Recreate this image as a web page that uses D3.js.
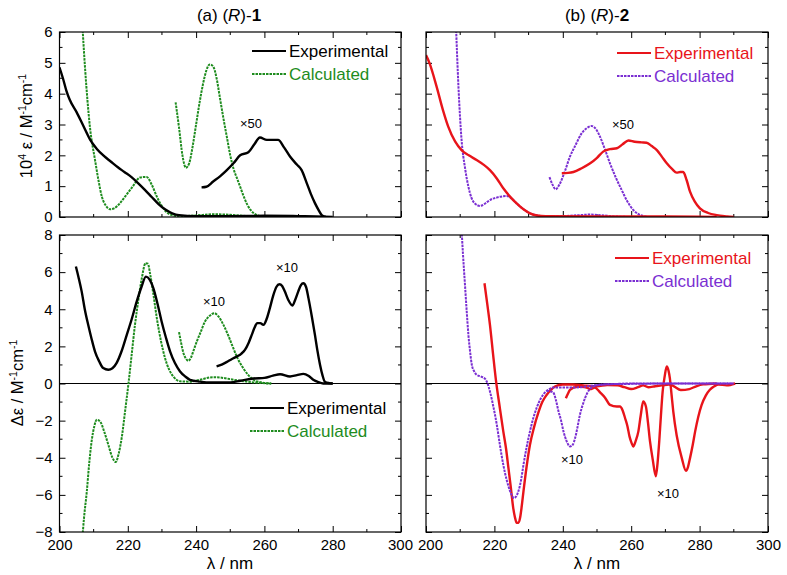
<!DOCTYPE html>
<html>
<head>
<meta charset="utf-8">
<script src="https://cdn.jsdelivr.net/npm/d3@7"></script>
<style>
  body { margin: 0; background: #fff; }
  svg { font-family: "Liberation Sans", Arial, sans-serif; }
</style>
</head>
<body>
<div id="chart"></div>
<script>
// ---- data (wavelength nm, value) ----
const absExp1 = [[200,4.85],[201,4.5],[202,4.1],[203,3.8],[205,3.4],[207,2.95],[209,2.5],[211,2.2],[213,1.98],[215,1.8],[217,1.62],[219,1.46],[221,1.3],[223,1.1],[225,0.88],[227,0.65],[229,0.42],[231,0.24],[233,0.12],[235,0.06],[240,0.03],[250,0.03],[260,0.04],[270,0.03],[275,0.02],[280,0]];
const absExp1x50 = [[241.6,0.96],[243,0.98],[245,1.15],[247,1.32],[249,1.52],[251,1.75],[252.9,2.0],[255.3,2.1],[257,2.35],[258.7,2.58],[260.7,2.5],[262,2.5],[264,2.5],[265.8,2.25],[267.5,1.96],[269.5,1.7],[270.9,1.52],[272.4,1.1],[273.6,0.75],[274.8,0.45],[276,0.2],[276.8,0.06],[278,0]];
const absCalc1 = [[206.6,6.4],[207.5,4.8],[208.9,2.93],[210.4,1.85],[211.4,1.2],[212.4,0.66],[213.5,0.38],[214.8,0.25],[216,0.28],[217.5,0.42],[219.2,0.66],[221.5,1.0],[223.6,1.28],[225.5,1.3],[227,1.05],[228.5,0.66],[230,0.35],[231.4,0.15],[233,0.06],[235,0.03],[240,0.05],[245,0.09],[250,0.07],[255,0.03],[260,0.01],[265,0]];
const absCalc1x50 = [[234,3.72],[235,2.9],[236,2.0],[237,1.6],[238,1.75],[239,2.3],[240,3.0],[241,3.7],[242,4.3],[243,4.75],[244,4.95],[245,4.88],[246,4.5],[247,3.85],[248,3.2],[249,2.6],[250,2.0],[251,1.55],[252,1.25],[253,0.95],[254,0.65],[255,0.4],[256,0.22],[257,0.11],[258,0.05],[260,0.01]];

const absExp2 = [[200,5.25],[201,5.0],[203.1,4.23],[205,3.45],[206.5,2.93],[208.5,2.45],[210.4,2.17],[212.5,2.0],[214.8,1.85],[216.8,1.7],[218.7,1.52],[220.7,1.25],[222.6,0.93],[224.5,0.67],[226.5,0.44],[228.5,0.25],[230.4,0.12],[232.5,0.05],[235,0.03],[250,0.02],[270,0.02],[280,0.01],[285,0]];
const absExp2x50 = [[239.7,1.42],[241.5,1.43],[243.1,1.46],[245.5,1.58],[248,1.74],[250,1.92],[251.8,2.12],[253.8,2.2],[255.8,2.23],[257.5,2.36],[259.2,2.48],[261,2.44],[263,2.42],[264.5,2.41],[266,2.3],[267.5,2.17],[269,1.95],[270.4,1.74],[272,1.55],[273.3,1.44],[274.3,1.46],[275.2,1.46],[276.2,1.2],[277.2,0.82],[278.6,0.5],[280.1,0.28],[282.5,0.13],[285,0.06],[288,0.02],[290,0]];
const absCalc2 = [[208.7,6.4],[209.5,4.2],[210.4,2.5],[211.4,1.6],[212.4,0.98],[213.3,0.62],[214.3,0.44],[215.8,0.36],[217.2,0.43],[218.7,0.55],[221,0.64],[223.6,0.68],[225,0.6],[226.5,0.44],[228.5,0.25],[230.4,0.12],[232.5,0.05],[235,0.02],[240,0.03],[245,0.06],[248,0.08],[251,0.06],[255,0.02],[260,0]];
const absCalc2x50 = [[236.1,1.29],[237,1.05],[237.9,0.9],[239,1.05],[240.5,1.45],[242.1,1.96],[243.8,2.35],[245.5,2.71],[247,2.88],[248.4,2.95],[249.7,2.85],[250.9,2.6],[252.3,2.2],[253.8,1.74],[255.5,1.28],[257.2,0.88],[258.9,0.5],[260.6,0.23],[262,0.1],[263.5,0.03],[265,0]];

const cdExp1 = [[204.8,6.3],[205.6,5.7],[206.5,4.95],[207.4,4.0],[208.4,3.16],[209.4,2.4],[210.4,1.72],[211.6,1.2],[212.8,0.83],[214.3,0.74],[215.5,0.82],[216.7,1.1],[218.2,1.75],[219.7,2.62],[221.2,3.5],[222.6,4.41],[224,5.2],[225.3,5.76],[226.4,5.6],[227.5,5.13],[228.7,4.3],[229.9,3.34],[231.2,2.45],[232.4,1.72],[233.8,1.1],[235.3,0.65],[236.8,0.38],[238.2,0.2],[241,0.1],[245,0.05],[250,0.06],[253,0.15],[256.8,0.27],[260,0.3],[262.5,0.42],[264.6,0.5],[267.5,0.38],[269.5,0.45],[271.4,0.52],[273,0.4],[274.3,0.2],[275.8,0.07],[277.2,0],[280,0]];
const cdExp1x10 = [[246,0.92],[247.5,1.02],[248.9,1.15],[250.5,1.32],[251.9,1.45],[253.2,1.6],[254.3,1.81],[255.4,2.2],[256.3,2.62],[257.1,3.0],[257.9,3.25],[258.8,3.25],[259.7,3.16],[260.7,3.5],[261.6,4.06],[262.6,4.75],[263.5,5.2],[264.4,5.35],[265.2,5.25],[266,4.95],[267,4.5],[268.2,4.2],[269,4.5],[269.9,4.95],[270.7,5.3],[271.4,5.4],[272.2,5.2],[272.9,4.6],[273.9,3.6],[274.8,2.62],[275.5,1.8],[276.3,1.0],[277,0.45],[277.7,0.1],[279,0.02],[280,0]];
const cdCalc1 = [[206.5,-8.8],[207.2,-7.2],[208,-5.81],[208.7,-4.3],[209.4,-3.12],[210.2,-2.3],[210.9,-1.95],[211.9,-2.05],[213.1,-2.6],[214.3,-3.3],[215.4,-3.95],[216.5,-4.23],[217.3,-3.8],[218.2,-2.94],[219.2,-1.5],[220.2,0],[221.1,1.5],[222.1,3.16],[223.1,4.5],[224.1,5.67],[225.2,6.48],[225.9,6.45],[226.5,5.94],[227.5,4.8],[228.5,3.52],[229.7,2.3],[230.9,1.37],[232.1,0.75],[233.3,0.38],[235.3,0.12],[238,0.1],[241,0.2],[245,0.34],[248,0.3],[251,0.2],[255,0.1],[258,0.04],[262,0]];
const cdCalc1x10 = [[235,2.77],[235.6,2.2],[236.3,1.63],[237,1.35],[237.7,1.22],[238.5,1.4],[239.3,1.8],[240.2,2.26],[241.4,2.8],[242.6,3.34],[244,3.65],[245.3,3.79],[246.6,3.6],[248,3.16],[249.5,2.55],[250.9,1.9],[252.3,1.3],[253.8,0.83],[255.3,0.45],[256.8,0.2],[258.5,0.08],[260,0.03],[262,0]];

const cdExp2 = [[217.1,5.4],[217.9,4.3],[218.7,3.16],[219.6,1.6],[220.5,0.1],[221.5,-1.2],[222.6,-2.58],[223.4,-3.5],[224.1,-4.55],[224.8,-5.6],[225.5,-6.7],[226,-7.2],[226.5,-7.51],[227,-7.5],[227.5,-7.25],[228,-6.6],[228.5,-5.81],[229.4,-4.5],[230.4,-3.3],[231.6,-2.35],[232.8,-1.6],[234,-1.0],[235.3,-0.61],[236.5,-0.35],[237.7,-0.16],[240,-0.05],[243,-0.05],[246,-0.1],[250,-0.15],[253,-0.08],[256,-0.1],[258,-0.2],[260,-0.3],[262,-0.2],[263.5,-0.1],[265,-0.2],[267,-0.15],[269,-0.1],[271,-0.05],[272.5,-0.15],[274.5,-0.35],[277,-0.3],[279,-0.15],[281,-0.05],[285,0]];
const cdExp2x10 = [[240.9,-0.79],[241.5,-0.55],[242.1,-0.34],[244.1,-0.18],[245.5,-0.18],[247,-0.22],[248,-0.3],[249.4,-0.22],[250.9,-0.48],[252.3,-0.75],[253.8,-1.15],[255.8,-1.24],[256.7,-1.24],[257.5,-1.45],[258.2,-1.86],[258.9,-2.3],[259.5,-2.85],[260.1,-3.2],[260.6,-3.39],[261.3,-3.1],[262.1,-2.58],[262.8,-1.7],[263.5,-0.97],[264.3,-1.24],[264.9,-2.1],[265.5,-3.12],[266.3,-4.1],[267.2,-5.0],[267.7,-4.3],[268.2,-3.12],[268.7,-1.7],[269.2,-0.43],[269.8,0.4],[270.4,0.92],[270.9,0.7],[271.3,0.29],[271.8,-0.6],[272.3,-1.5],[273.3,-2.8],[274.8,-4.02],[276,-4.7],[276.6,-4.5],[277.2,-4.02],[278,-3.3],[278.7,-2.58],[279.6,-1.8],[280.6,-1.15],[281.8,-0.65],[283,-0.34],[284.3,-0.15],[285.5,-0.05],[287.9,-0.1],[290.4,0]];
const cdCalc2 = [[210.2,9],[210.8,7.0],[211.4,5.31],[211.9,3.9],[212.4,2.62],[212.9,1.7],[213.4,1.0],[214.1,0.65],[214.8,0.47],[216,0.38],[217.3,0.25],[218,0],[218.7,-0.43],[219.7,-1.25],[220.7,-2.22],[221.6,-3.3],[222.6,-4.38],[223.6,-5.2],[224.6,-5.81],[225.7,-6.17],[226.3,-6.1],[227,-5.81],[227.8,-5.2],[228.5,-4.38],[229.4,-3.45],[230.4,-2.58],[231.4,-1.85],[232.4,-1.29],[233.6,-0.8],[234.8,-0.48],[236,-0.32],[237.2,-0.22],[239.2,-0.22],[242,-0.22],[245,-0.2],[250,-0.08],[255,-0.03],[260,0],[290,0]];
const cdCalc2x10 = [[235.3,-0.39],[236.3,-0.42],[237.2,-0.48],[238,-0.9],[238.7,-1.47],[239.5,-2.0],[240.2,-2.58],[241.1,-3.1],[242.1,-3.39],[242.9,-3.3],[243.6,-2.94],[244.3,-2.35],[245,-1.69],[246,-1.05],[247,-0.57],[248.4,-0.22],[250.9,-0.07],[255,-0.03],[260,-0.02],[270,0],[290,0]];

const xTicks = [200, 220, 240, 260, 280, 300];
const absTicks = [0, 1, 2, 3, 4, 5, 6];
const cdTicks = [-8, -6, -4, -2, 0, 2, 4, 6, 8];

const colors = { exp1: "#000000", calc1: "#1e8c1e", exp2: "#e8141a", calc2: "#7a2fd2" };

// ---- layout ----
const W = 787, H = 575;
const svg = d3.select("#chart").append("svg")
  .attr("width", W).attr("height", H);

const cols = [{ x0: 59.5, x1: 401 }, { x0: 426, x1: 768 }];
const rows = [{ y0: 32, y1: 217 }, { y0: 235, y1: 532 }];

function drawPanel(id, col, row, yDomain, yMajor, yMinorStep, showYLabels, showXLabels, series, zeroLine) {
  const x = d3.scaleLinear().domain([200, 300]).range([col.x0, col.x1]);
  const y = d3.scaleLinear().domain(yDomain).range([row.y1, row.y0]);
  const g = svg.append("g");

  g.append("clipPath").attr("id", id)
    .append("rect").attr("x", col.x0).attr("y", row.y0)
    .attr("width", col.x1 - col.x0).attr("height", row.y1 - row.y0);

  const xMinor = d3.range(210, 300, 20);
  const yMinor = d3.range(yDomain[0] + yMinorStep, yDomain[1], yMinorStep * 2);

  // axes on all four sides, ticks pointing in
  const axB = d3.axisBottom(x).tickValues(xTicks).tickSize(-6).tickPadding(7)
    .tickFormat(showXLabels ? d3.format("d") : "");
  const axT = d3.axisTop(x).tickValues(xTicks).tickSize(-6).tickFormat("");
  const axL = d3.axisLeft(y).tickValues(yMajor).tickSize(-6).tickPadding(7)
    .tickFormat(showYLabels ? d3.format("d") : "");
  const axR = d3.axisRight(y).tickValues(yMajor).tickSize(-6).tickFormat("");

  const axes = [
    g.append("g").attr("transform", `translate(0,${row.y1})`).call(axB),
    g.append("g").attr("transform", `translate(0,${row.y0})`).call(axT),
    g.append("g").attr("transform", `translate(${col.x0},0)`).call(axL),
    g.append("g").attr("transform", `translate(${col.x1},0)`).call(axR)
  ];
  axes.forEach(a => {
    a.select(".domain").remove();
    a.selectAll("line").attr("stroke", "#000").attr("stroke-width", 1);
    a.selectAll("text").attr("fill", "#000").style("font-size", "15px")
      .style("font-family", "'Liberation Sans', Arial, sans-serif");
  });
  // nudge the edge labels apart where the two panels meet
  axes[0].selectAll("text").attr("dx", d => {
    if (col.x0 > 300 && d === 200) return 4;
    if (col.x0 < 300 && d === 300) return -1;
    return 0;
  });

  // minor ticks
  xMinor.forEach(v => {
    g.append("line").attr("x1", x(v)).attr("x2", x(v)).attr("y1", row.y1).attr("y2", row.y1 - 3).attr("stroke", "#000");
    g.append("line").attr("x1", x(v)).attr("x2", x(v)).attr("y1", row.y0).attr("y2", row.y0 + 3).attr("stroke", "#000");
  });
  yMinor.forEach(v => {
    g.append("line").attr("x1", col.x0).attr("x2", col.x0 + 3).attr("y1", y(v)).attr("y2", y(v)).attr("stroke", "#000");
    g.append("line").attr("x1", col.x1).attr("x2", col.x1 - 3).attr("y1", y(v)).attr("y2", y(v)).attr("stroke", "#000");
  });

  if (zeroLine) {
    g.append("line").attr("x1", col.x0).attr("x2", col.x1)
      .attr("y1", y(0)).attr("y2", y(0)).attr("stroke", "#000").attr("stroke-width", 1.2);
  }

  const line = d3.line().x(d => x(d[0])).y(d => y(d[1])).curve(d3.curveMonotoneX);
  const plot = g.append("g").attr("clip-path", `url(#${id})`);
  series.forEach(s => {
    plot.append("path")
      .datum(s.data)
      .attr("fill", "none")
      .attr("stroke", s.color)
      .attr("stroke-width", s.dash ? 2 : 2.4)
      .attr("stroke-dasharray", s.dash ? "2.5,1" : null)
      .attr("stroke-linejoin", "round")
      .attr("d", line);
  });

  // frame
  g.append("rect").attr("x", col.x0).attr("y", row.y0)
    .attr("width", col.x1 - col.x0).attr("height", row.y1 - row.y0)
    .attr("fill", "none").attr("stroke", "#000").attr("stroke-width", 1.2);

  return { x, y, g };
}

function legend(lx, ly, expColor, calcColor) {
  const items = [
    { text: "Experimental", color: expColor, dash: null, dy: 0 },
    { text: "Calculated", color: calcColor, dash: "2.5,1", dy: 23 }
  ];
  items.forEach(it => {
    svg.append("line")
      .attr("x1", lx).attr("x2", lx + 34)
      .attr("y1", ly + it.dy).attr("y2", ly + it.dy)
      .attr("stroke", it.color)
      .attr("stroke-width", 2)
      .attr("stroke-dasharray", it.dash);
    svg.append("text")
      .attr("x", lx + 37).attr("y", ly + it.dy)
      .attr("dy", "0.35em")
      .attr("fill", it.color)
      .style("font-size", "17px")
      .text(it.text);
  });
}

function note(px, py, txt) {
  svg.append("text").attr("x", px).attr("y", py).attr("dy", "0.35em")
    .style("font-size", "13px").attr("fill", "#000").text(txt);
}

// top-left: absorption (R)-1
drawPanel("c1", cols[0], rows[0], [0, 6], absTicks, 0.5, true, false, [
  { data: absCalc1, color: colors.calc1, dash: true },
  { data: absCalc1x50, color: colors.calc1, dash: true },
  { data: absExp1, color: colors.exp1 },
  { data: absExp1x50, color: colors.exp1 }
], false);

// top-right: absorption (R)-2
drawPanel("c2", cols[1], rows[0], [0, 6], absTicks, 0.5, false, false, [
  { data: absCalc2, color: colors.calc2, dash: true },
  { data: absCalc2x50, color: colors.calc2, dash: true },
  { data: absExp2, color: colors.exp2 },
  { data: absExp2x50, color: colors.exp2 }
], false);

// bottom-left: CD (R)-1
drawPanel("c3", cols[0], rows[1], [-8, 8], cdTicks, 1, true, true, [
  { data: cdCalc1, color: colors.calc1, dash: true },
  { data: cdCalc1x10, color: colors.calc1, dash: true },
  { data: cdExp1, color: colors.exp1 },
  { data: cdExp1x10, color: colors.exp1 }
], true);

// bottom-right: CD (R)-2
drawPanel("c4", cols[1], rows[1], [-8, 8], cdTicks, 1, false, true, [
  { data: cdExp2, color: colors.exp2 },
  { data: cdExp2x10, color: colors.exp2 },
  { data: cdCalc2, color: colors.calc2, dash: true },
  { data: cdCalc2x10, color: colors.calc2, dash: true }
], true);

// legends
legend(252, 51, colors.exp1, colors.calc1);
legend(617, 53, colors.exp2, colors.calc2);
legend(250, 408, colors.exp1, colors.calc1);
legend(615, 258, colors.exp2, colors.calc2);

// scale-factor notes
note(240, 123, "×50");
note(612, 124, "×50");
note(203, 301, "×10");
note(276, 267, "×10");
note(561, 459, "×10");
note(657, 493, "×10");

// titles
function title(cx, label, num) {
  const t = svg.append("text").attr("x", cx).attr("y", 21)
    .attr("text-anchor", "middle").style("font-size", "17px");
  t.append("tspan").text(label + " (");
  t.append("tspan").style("font-style", "italic").text("R");
  t.append("tspan").text(")-");
  t.append("tspan").style("font-weight", "bold").text(num);
}
title(229, "(a)", "1");
title(597, "(b)", "2");

// axis labels
function xLabel(cx) {
  svg.append("text").attr("x", cx).attr("y", 569)
    .attr("text-anchor", "middle").style("font-size", "17px").text("λ / nm");
}
xLabel(230);
xLabel(597);

function yLabel(bx, cy, parts) {
  const t = svg.append("text")
    .attr("transform", `translate(${bx},${cy}) rotate(-90)`)
    .attr("text-anchor", "middle").style("font-size", "16.5px");
  parts.forEach(p => {
    const s = t.append("tspan").text(p.t);
    if (p.sup) s.style("font-size", "10.5px").attr("baseline-shift", "super");
  });
}
yLabel(32, 126, [{ t: "10" }, { t: "4", sup: true }, { t: " ε / M" }, { t: "-1", sup: true }, { t: "cm" }, { t: "-1", sup: true }]);
yLabel(23, 383, [{ t: "Δε / M" }, { t: "-1", sup: true }, { t: "cm" }, { t: "-1", sup: true }]);
</script>
</body>
</html>
